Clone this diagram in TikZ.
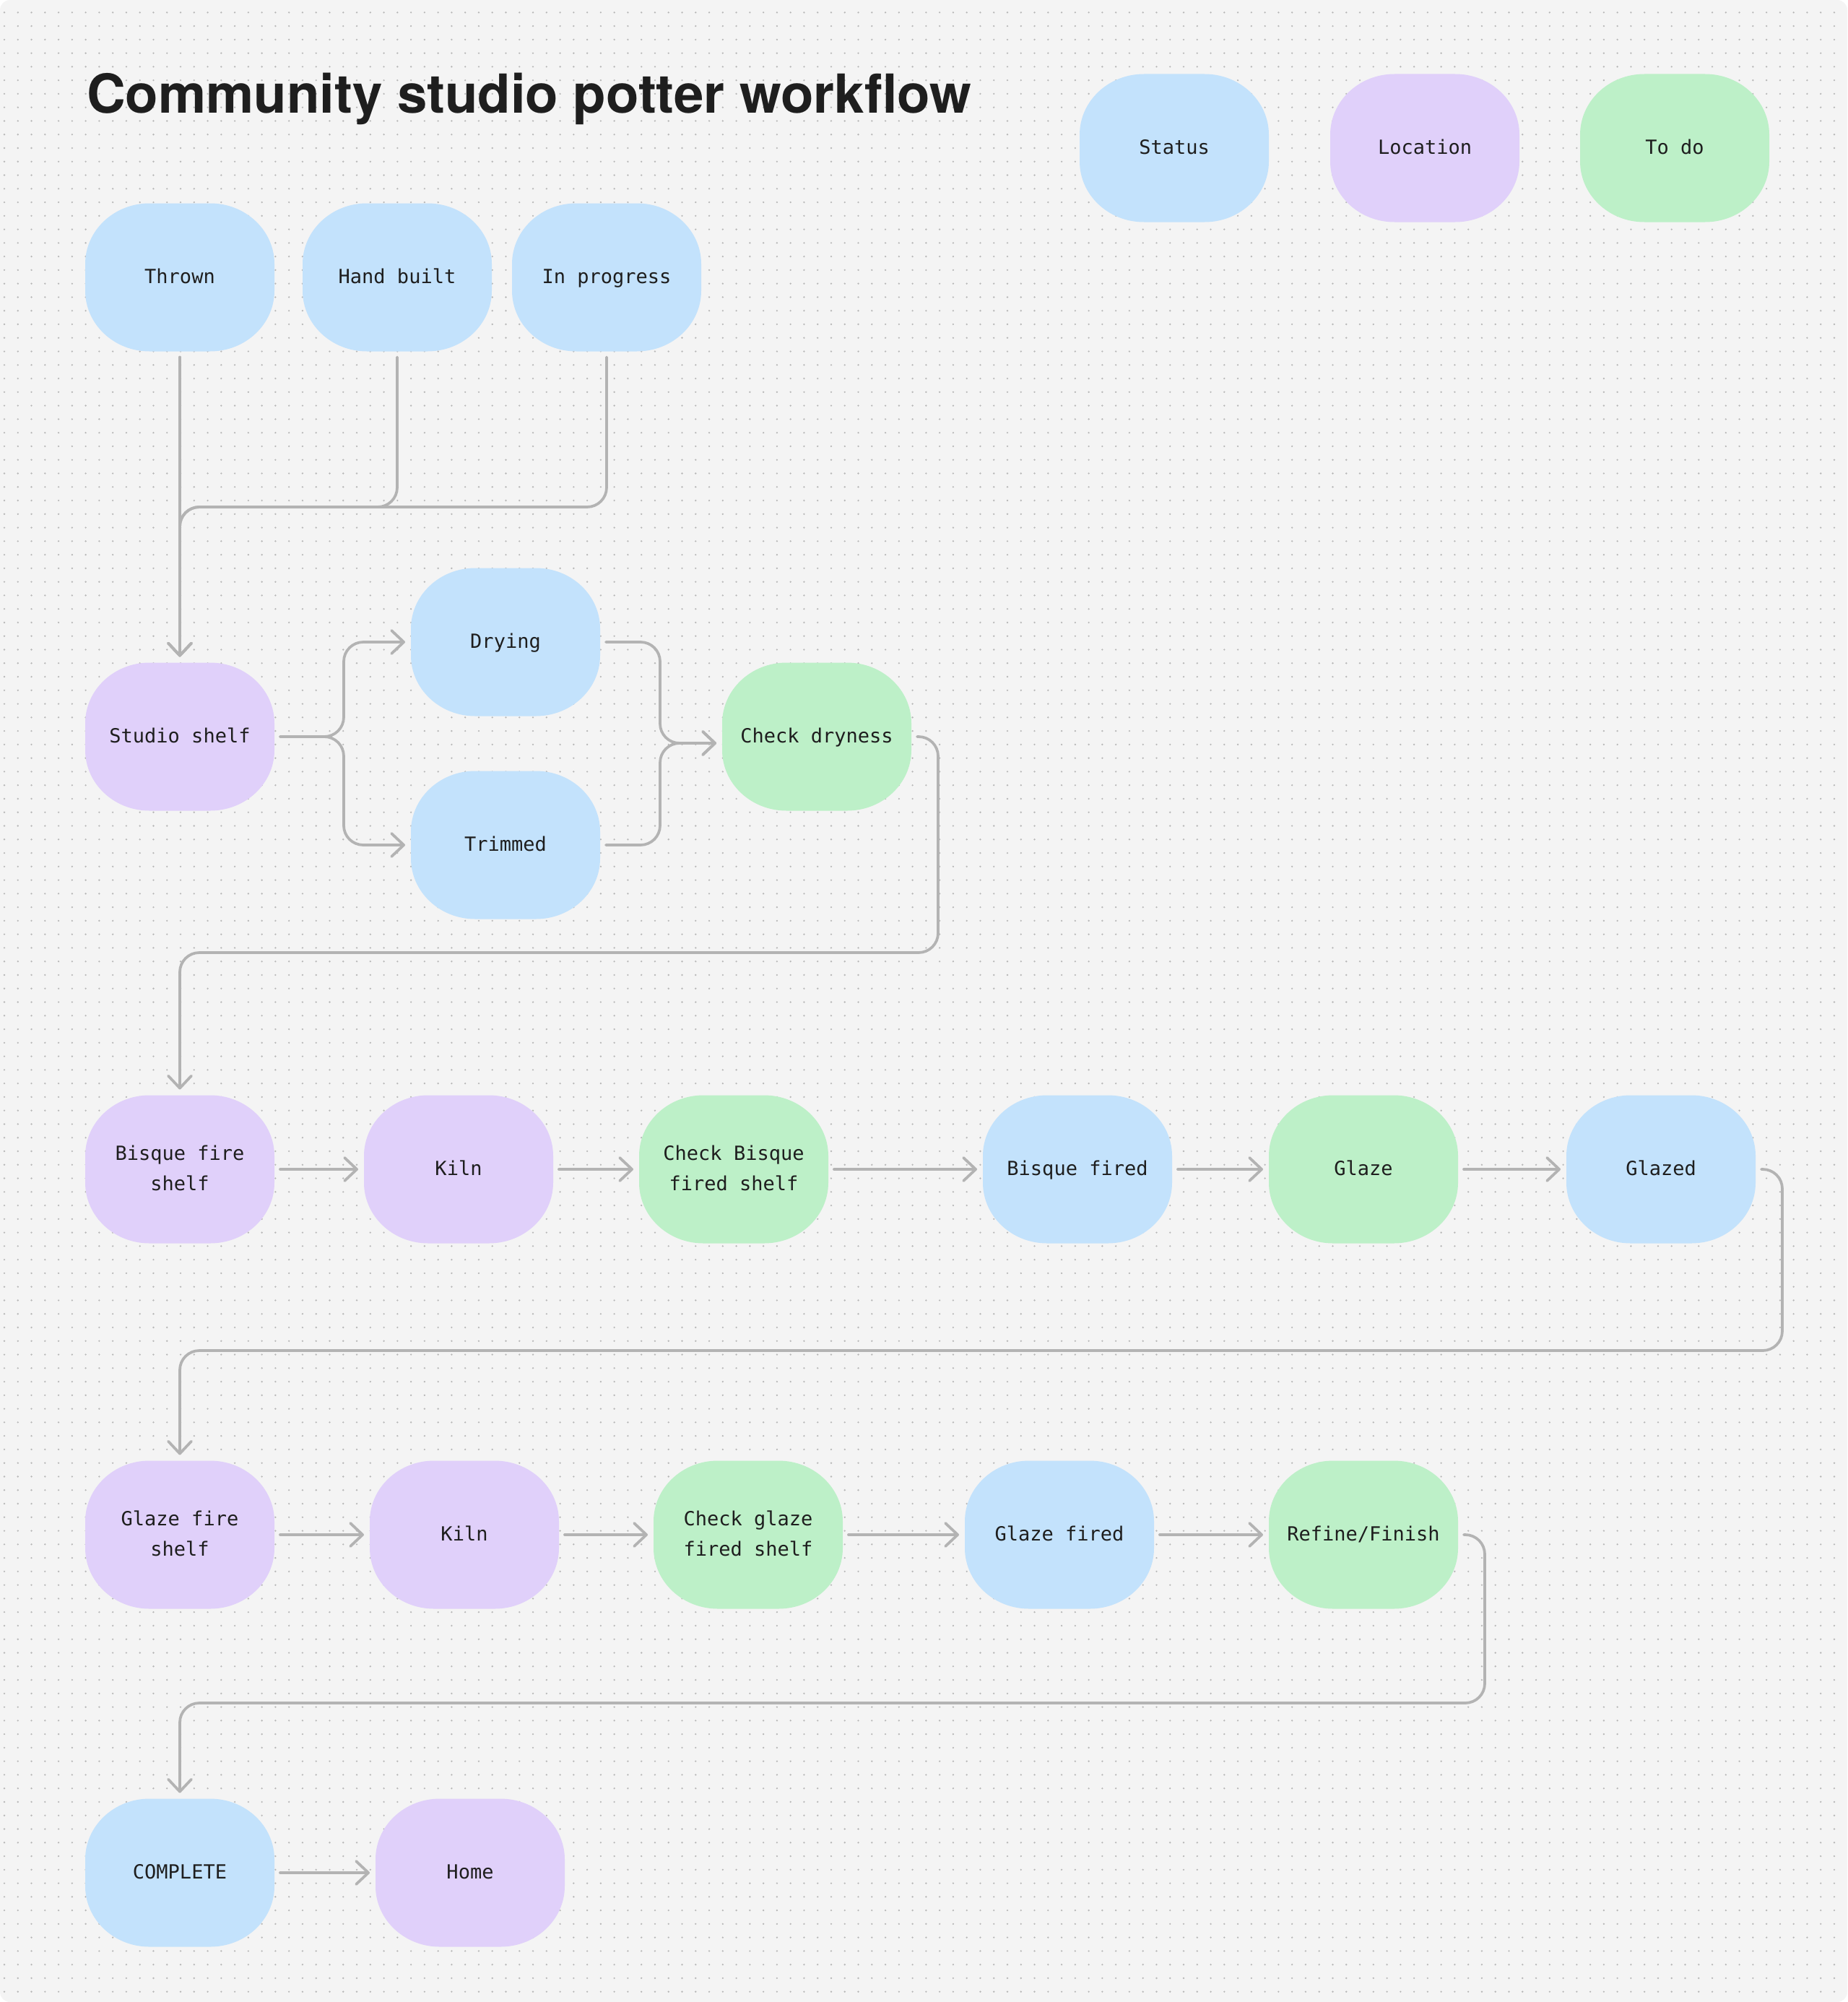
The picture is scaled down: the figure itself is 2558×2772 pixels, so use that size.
\documentclass[tikz,border=0pt]{standalone}
\usepackage{fontspec}
\setmainfont{DejaVu Sans Mono}
\newfontfamily\titlefont{TeX Gyre Heros}
\usetikzlibrary{arrows.meta,calc}
\definecolor{bg}{HTML}{F4F4F4}
\definecolor{dotc}{HTML}{B8B8B8}
\definecolor{blu}{HTML}{C3E2FC}
\definecolor{pur}{HTML}{E0D0FA}
\definecolor{grn}{HTML}{BDF0C8}
\definecolor{lnc}{HTML}{B3B3B3}
\definecolor{txt}{HTML}{1E1E1E}
\definecolor{ttl}{HTML}{1E1E1E}
\tikzset{
  nd/.style={minimum width=262pt, minimum height=205pt, inner sep=0pt, outer sep=8pt,
    align=center, font=\fontsize{27}{42}\selectfont, text=txt},
  conn/.style={draw=lnc, line width=3.75pt, line cap=round, line join=round,
    rounded corners=27pt, -{Straight Barb[length=17pt,width=32pt,round]}},
  dotrow/.style={draw=dotc, line width=2.6pt, line cap=round, dash pattern=on 0pt off 18.77pt},
}
\newcommand\blob[5]{%
  \fill[#4] ([shift={(-42pt,102.5pt)}]#2,#3) -- ++(84pt,0pt)
    arc[start angle=90,end angle=0,x radius=89pt,y radius=84pt] -- ++(0pt,-37pt)
    arc[start angle=0,end angle=-90,x radius=89pt,y radius=84pt] -- ++(-84pt,0pt)
    arc[start angle=-90,end angle=-180,x radius=89pt,y radius=84pt] -- ++(0pt,37pt)
    arc[start angle=180,end angle=90,x radius=89pt,y radius=84pt] -- cycle;
  \node[nd] (#1) at (#2,#3) {#5\strut};
}
\begin{document}
\begin{tikzpicture}[x=1pt,y=-1pt]
\useasboundingbox (0,0) rectangle (2558,2772);
\fill[white] (0,0) rectangle (2558,2772);
\fill[bg, rounded corners=14pt] (0,0) rectangle (2558,2772);
\foreach \i in {0,...,146} \draw[dotrow] (6,{17.3+18.77*\i}) -- (2558,{17.3+18.77*\i});

\node[anchor=base west, inner sep=0pt, text=ttl, font=\titlefont\bfseries\fontsize{74.4}{80}\selectfont] (title) at (120,157) {Community studio potter workflow};

\blob{status}{1626}{205}{blu}{Status}
\blob{location}{1973}{205}{pur}{Location}
\blob{todo}{2319}{205}{grn}{To do}

\blob{thrown}{249}{384}{blu}{Thrown}
\blob{hand}{550}{384}{blu}{Hand built}
\blob{inprog}{840}{384}{blu}{In progress}

\blob{studio}{249}{1020}{pur}{Studio shelf}
\blob{drying}{700}{889}{blu}{Drying}
\blob{trimmed}{700}{1170}{blu}{Trimmed}
\blob{check}{1131}{1020}{grn}{Check dryness}

\blob{bshelf}{249}{1619}{pur}{Bisque fire\strut\\shelf}
\blob{kilna}{635}{1619}{pur}{Kiln}
\blob{cbisque}{1016}{1619}{grn}{Check Bisque\strut\\fired shelf}
\blob{bfired}{1492}{1619}{blu}{Bisque fired}
\blob{glaze}{1888}{1619}{grn}{Glaze}
\blob{glazed}{2300}{1619}{blu}{Glazed}

\blob{gshelf}{249}{2125}{pur}{Glaze fire\strut\\shelf}
\blob{kilnb}{643}{2125}{pur}{Kiln}
\blob{cglaze}{1036}{2125}{grn}{Check glaze\strut\\fired shelf}
\blob{gfired}{1467}{2125}{blu}{Glaze fired}
\blob{refine}{1888}{2125}{grn}{Refine/Finish}

\blob{complete}{249}{2593}{blu}{COMPLETE}
\blob{home}{651}{2593}{pur}{Home}

\coordinate (j1) at (249,702);
\coordinate (fk) at (476,1020);
\coordinate (mg) at (914,1029);
\coordinate (r1) at (1299,1319);
\coordinate (r2) at (2468,1870);
\coordinate (r3) at (2056,2358);

\draw[conn] (thrown.south) -- (studio.north);
\draw[conn] (hand.south) |- (j1) -- (studio.north);
\draw[conn] (inprog.south) |- (j1) -- (studio.north);

\draw[conn] (studio.east) -- (fk) |- (drying.west);
\draw[conn] (studio.east) -- (fk) |- (trimmed.west);
\draw[conn] (drying.east) -| (mg) -- (mg -| check.west);
\draw[conn] (trimmed.east) -| (mg) -- (mg -| check.west);
\draw[conn] (check.east) -| (r1) -| (bshelf.north);

\draw[conn] (bshelf.east) -- (kilna.west);
\draw[conn] (kilna.east) -- (cbisque.west);
\draw[conn] (cbisque.east) -- (bfired.west);
\draw[conn] (bfired.east) -- (glaze.west);
\draw[conn] (glaze.east) -- (glazed.west);
\draw[conn] (glazed.east) -| (r2) -| (gshelf.north);

\draw[conn] (gshelf.east) -- (kilnb.west);
\draw[conn] (kilnb.east) -- (cglaze.west);
\draw[conn] (cglaze.east) -- (gfired.west);
\draw[conn] (gfired.east) -- (refine.west);
\draw[conn] (refine.east) -| (r3) -| (complete.north);

\draw[conn] (complete.east) -- (home.west);
\end{tikzpicture}
\end{document}
